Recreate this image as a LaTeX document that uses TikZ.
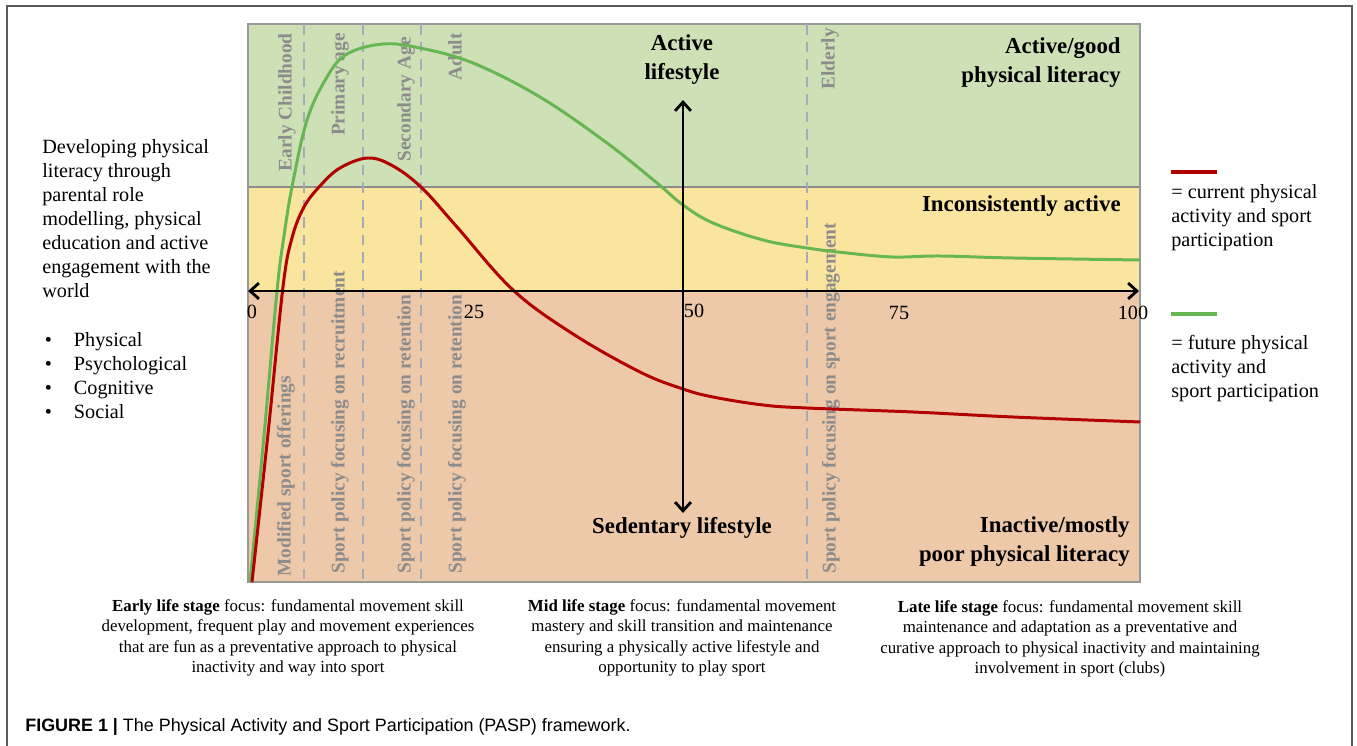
\documentclass[tikz,border=0pt]{standalone}
\usepackage{fontspec}
\setmainfont{Liberation Serif}
\newfontfamily\capfont{Liberation Sans}
\usetikzlibrary{arrows.meta}

\definecolor{bandgreen}{RGB}{206,224,182}
\definecolor{bandyellow}{RGB}{249,229,158}
\definecolor{bandpeach}{RGB}{237,201,170}
\definecolor{currentred}{RGB}{178,0,0}
\definecolor{futuregreen}{RGB}{102,182,82}
\definecolor{stagegrey}{RGB}{140,140,140}
\definecolor{dashgrey}{RGB}{165,172,185}

\newcommand{\bulletitem}{\hspace*{1.5pt}\makebox[16.5pt][l]{\textbullet}}

\begin{document}
\begin{tikzpicture}[x=0.02cm,y=-0.02cm,
    stage/.style={rotate=90,inner sep=0pt,text=stagegrey,font=\fontsize{11}{13}\selectfont\bfseries},
    bandlabel/.style={inner sep=0pt,align=right,font=\fontsize{13}{16.5}\selectfont\bfseries},
    axislabel/.style={inner sep=0pt,align=center,font=\fontsize{13}{16.5}\selectfont\bfseries},
    plain/.style={inner sep=0pt,align=left,font=\fontsize{11.5}{13.7}\selectfont},
    focus/.style={inner sep=0pt,align=center,font=\fontsize{9.6}{11.7}\selectfont},
    ticklabel/.style={inner sep=0pt,font=\fontsize{11.5}{13.7}\selectfont},
    curve/.style={line width=1.7pt,line join=round},
    legendline/.style={line width=2.4pt},
    axis/.style={line width=1.6pt,{Straight Barb[length=5pt,width=9pt]}-{Straight Barb[length=5pt,width=9pt]}}
]
\useasboundingbox (0,0) rectangle (1357,746);
\draw[line width=0.8pt,black!65] (7,746) -- (7,6) -- (1352,6) -- (1352,746);

\fill[bandgreen] (248,24) rectangle (1140,187);
\fill[bandyellow] (248,187) rectangle (1140,291);
\fill[bandpeach] (248,291) rectangle (1140,582);
\draw[black!45,line width=0.6pt] (248,187) -- (1140,187);
\draw[black!40,line width=0.7pt] (248,24) rectangle (1140,582);

\foreach \px in {304,363,421,807}
    \draw[dashgrey,line width=0.8pt,dash pattern=on 6pt off 4pt] (\px,24) -- (\px,580);

\node[stage,anchor=east] (early) at (287,33) {Early Childhood};
\node[stage,anchor=east] (primary) at (340,33) {Primary age};
\node[stage,anchor=east] (secondary) at (406,37) {Secondary Age};
\node[stage,anchor=east] (adult) at (455,33) {Adult};
\node[stage,anchor=east] (elderly) at (830,28) {Elderly};
\node[stage,anchor=west] (modified) at (286,577) {Modified sport offerings};
\node[stage,anchor=west] (recruit) at (340,574) {Sport policy focusing on recruitment};
\node[stage,anchor=west] (retainA) at (406,574) {Sport policy focusing on retention};
\node[stage,anchor=west] (retainB) at (457,574) {Sport policy focusing on retention};
\node[stage,anchor=west] (engage) at (831,574) {Sport policy focusing on sport engagement};

\draw[curve,futuregreen] plot[smooth,tension=0.6] coordinates {
    (250,582) (264,436) (277,291) (284,236) (292,187) (307,120) (327,77) (347,54)
    (383,44) (420,48) (473,63) (540,97) (607,143) (657,183) (683,205) (713,223)
    (763,240) (807,248) (847,253) (893,257) (940,256) (1013,258) (1140,260)};
\draw[curve,currentred] plot[smooth,tension=0.6] coordinates {
    (252,582) (268,434) (283,287) (292,238) (304,207) (320,186) (340,168) (368,158)
    (393,166) (422,188) (457,227) (513,290) (573,334) (640,372) (683,389) (713,397)
    (763,405) (807,408) (913,412) (1013,417) (1140,422)};

\coordinate (axisW) at (248,291);
\coordinate (axisE) at (1139,291);
\coordinate (lifeN) at (683,100);
\coordinate (lifeS) at (683,513);
\draw[axis] (axisW) -- (axisE);
\draw[axis] (lifeS) -- (lifeN);

\node[ticklabel] (t0) at (252,312) {0};
\node[ticklabel] (t25) at (474,312) {25};
\node[ticklabel] (t50) at (694,311) {50};
\node[ticklabel] (t75) at (899,313) {75};
\node[ticklabel] (t100) at (1133,313) {100};

\node[axislabel] (active) at (682,60) {Active\\lifestyle};
\node[axislabel] (sedentary) at (682,528) {Sedentary lifestyle};
\node[bandlabel,anchor=east] (good) at (1121,63) {Active/good\\physical literacy};
\node[bandlabel,anchor=east] (incons) at (1121,206) {Inconsistently active};
\node[bandlabel,anchor=east] (poor) at (1130,542) {Inactive/mostly\\poor physical literacy};

\node[plain,anchor=north west] (develop) at (42,139) {Developing physical\\literacy through\\parental role\\modelling, physical\\education and active\\engagement with the\\world};
\node[plain,anchor=north west] (aspects) at (42,332) {\bulletitem Physical\\\bulletitem Psychological\\\bulletitem Cognitive\\\bulletitem Social};

\coordinate (redA) at (1171,172);
\coordinate (redB) at (1217,172);
\draw[legendline,currentred] (redA) -- (redB);
\node[plain,anchor=north west] (current) at (1171,184) {= current physical\\activity and sport\\participation};
\coordinate (greenA) at (1171,314);
\coordinate (greenB) at (1217,314);
\draw[legendline,futuregreen] (greenA) -- (greenB);
\node[plain,anchor=north west] (future) at (1171,335) {= future physical\\activity and\\sport participation};

\node[focus,anchor=north] (earlystage) at (288,599) {\textbf{Early life stage} focus: fundamental movement skill\\development, frequent play and movement experiences\\that are fun as a preventative approach to physical\\inactivity and way into sport};
\node[focus,anchor=north] (midstage) at (682,599) {\textbf{Mid life stage} focus: fundamental movement\\mastery and skill transition and maintenance\\ensuring a physically active lifestyle and\\opportunity to play sport};
\node[focus,anchor=north] (latestage) at (1070,600) {\textbf{Late life stage} focus: fundamental movement skill\\maintenance and adaptation as a preventative and\\curative approach to physical inactivity and maintaining\\involvement in sport (clubs)};

\node[inner sep=0pt,anchor=west,font=\capfont\fontsize{10.2}{12}\selectfont] (caption) at (25,727) {\textbf{FIGURE 1 |} The Physical Activity and Sport Participation (PASP) framework.};
\end{tikzpicture}
\end{document}
